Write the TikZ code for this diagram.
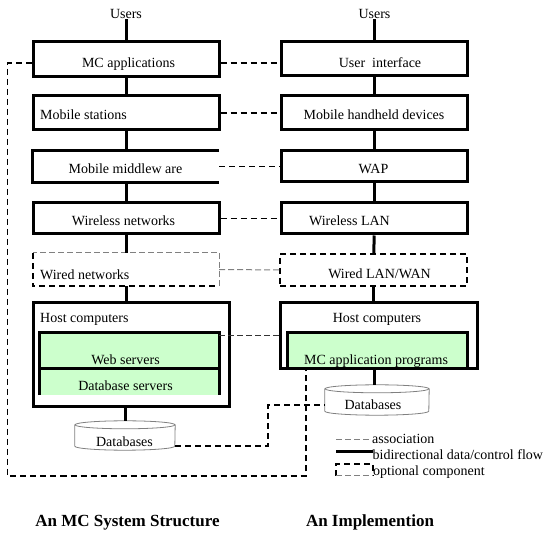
\documentclass[tikz,border=0pt]{standalone}
\usepackage{fontspec}
\setmainfont{Liberation Serif}
\usepackage{xcolor}
\usetikzlibrary{positioning}

\definecolor{srvgreen}{RGB}{204,255,204}

\begin{document}
\begin{tikzpicture}[x=1pt, y=-1pt,
    txt/.style={font=\fontsize{14}{16}\selectfont, inner sep=0pt},
    title/.style={font=\fontsize{17}{20}\selectfont\bfseries, inner sep=0pt},
    box/.style={draw, line width=3pt, inner sep=0pt, minimum width=186pt},
    plainbox/.style={inner sep=0pt, minimum width=186pt},
    srv/.style={fill=srvgreen, inner sep=0pt, minimum width=179pt},
    db/.style={inner sep=0pt, minimum width=100pt, minimum height=29pt},
    dbline/.style={gray, line width=0.8pt},
    flow/.style={line width=3pt},
    assoc/.style={line width=1.5pt, dash pattern=on 6pt off 4pt},
    weak/.style={gray, line width=1pt, dash pattern=on 6pt off 3pt},
    hostlink/.style={black!80, line width=1pt, dash pattern=on 6pt off 3pt}]
    \useasboundingbox (0,0) rectangle (547,534);

%% left column: the MC system structure
\node[txt, anchor=base] (usersl) at (126,19) {Users};
\node[box, minimum height=35pt] (mcapp) at (126,59.5) {};
\node[box, minimum height=34pt] (stations) at (126,113) {};
\node[plainbox, minimum height=31pt] (middle) at (126,166.5) {};
\node[box, minimum height=31pt] (wireless) at (126,218.5) {};
\node[plainbox, minimum height=33pt] (wired) at (126,269.5) {};
\node[box, minimum width=196pt, minimum height=104pt] (lhost) at (131,355) {};
\node[srv, minimum height=35pt] (web) at (129.5,350.5) {};
\node[srv, minimum height=27pt] (dbsrv) at (129.5,381.5) {};
\node[db] (ldb) at (125,435.5) {};

\draw[flow] (middle.north east) -| (middle.south west) -- (middle.south east);
\draw[weak] (wired.south east) |- (wired.north west);
\draw[assoc] (wired.north west) |- (wired.south east);
\draw[flow] (dbsrv.south west) |- (web.north east) -- (dbsrv.south east);
\draw[flow] (web.south west) -- (web.south east);

\node[txt, anchor=base] (mcapptxt) at (128.5,68) {MC applications};
\node[txt, anchor=base west] (stationstxt) at (40,119.5) {Mobile stations};
\node[txt, anchor=base] (middletxt) at (125.5,174) {Mobile middlew are};
\node[txt, anchor=base] (wirelesstxt) at (123.5,226) {Wireless networks};
\node[txt, anchor=base west] (wiredtxt) at (40,279.5) {Wired networks};
\node[txt, anchor=base west] (lhosttxt) at (40,323) {Host computers};
\node[txt, anchor=base] (webtxt) at (125.5,364.5) {Web servers};
\node[txt, anchor=base] (dbsrvtxt) at (125.5,391) {Database servers};

%% right column: an implementation
\node[txt, anchor=base] (usersr) at (374.5,19) {Users};
\node[box, minimum height=34pt] (ui) at (374.5,59) {};
\node[box, minimum height=34pt] (handheld) at (374.5,113) {};
\node[box, minimum height=31pt] (wap) at (374.5,166.5) {};
\node[box, minimum height=31pt] (wlan) at (374.5,218.5) {};
\node[plainbox, minimum width=187pt, minimum height=32pt, draw, line width=1.3pt,
      dash pattern=on 6pt off 4pt] (wiredlan) at (373.5,270) {};
\node[srv, minimum height=36pt] (mcprog) at (377.5,351) {};
\node[box, minimum width=197pt, minimum height=66pt] (rhost) at (378.5,336) {};
\node[db, minimum width=104pt, minimum height=30pt] (rdb) at (377,400) {};

\draw[flow] (mcprog.south west) |- (mcprog.north east) -- (mcprog.south east);

\node[txt, anchor=base] (uitxt) at (380,67.5) {User\ \ interface};
\node[txt, anchor=base] (handheldtxt) at (374,119.5) {Mobile handheld devices};
\node[txt, anchor=base] (waptxt) at (373.5,173.5) {WAP};
\node[txt, anchor=base] (wlantxt) at (349.5,226) {Wireless LAN};
\node[txt, anchor=base] (wiredlantxt) at (379.5,279) {Wired LAN/WAN};
\node[txt, anchor=base] (rhosttxt) at (377,323) {Host computers};
\node[txt, anchor=base] (mcprogtxt) at (376,364.5) {MC application programs};

%% the two databases as drums
\foreach \d / \r in {ldb/50pt, rdb/52pt} {
  \draw[dbline] ([yshift=-4pt]\d.north) ellipse [x radius=\r, y radius=4pt];
  \draw[dbline] ([yshift=-4pt]\d.north west) -- ([yshift=4pt]\d.south west)
     arc [start angle=180, end angle=360, x radius=\r, y radius=4pt]
     -- ([yshift=-4pt]\d.north east);
}
\node[txt, anchor=base] (ldbtxt) at (124.5,447) {Databases};
\node[txt, anchor=base] (rdbtxt) at (373,410) {Databases};

%% data/control flow
\foreach \a / \b in {usersl/mcapp, mcapp/stations, stations/middle, middle/wireless, wireless/wired,
                     usersr/ui, ui/handheld, handheld/wap, wap/wlan, wlan/wiredlan}
  \draw[flow] (\a) -- (\b);
\draw[flow] (wired.south) -- (wired.south |- lhost.north);
\draw[flow] (ldb.north |- lhost.south) -- (ldb.north);
\draw[flow] (wiredlan.south) -- (wiredlan.south |- rhost.north);
\draw[flow] (wap.south |- rhost.south) -- (wap.south |- rdb.north);

%% associations
\draw[assoc] ([yshift=-3.5pt]mcapp.east) -- ([yshift=-4pt]ui.west);
\foreach \a / \b in {stations/handheld, middle/wap, wireless/wlan}
  \draw[assoc] (\a) -- (\b);
\draw[weak] (wired) -- (wiredlan);
\draw[hostlink] (web.east |- rhost.west) -- (rhost.west);

\coordinate (loopcorner) at (7.5,476);
\coordinate (loopend) at (306,476);
\draw[assoc] ([yshift=-3.5pt]mcapp.west) -| (loopcorner) -- (loopend) -- (loopend |- mcprog.south);

\coordinate (dbbend) at (268,446);
\draw[assoc] (ldb.east |- dbbend) -- (dbbend) |- ([yshift=-5pt]rdb.west);

%% legend
\draw[weak] (336,440) -- (370,440);
\node[txt, anchor=base west] (assoctxt) at (372,444) {association};
\draw[flow] (336,452) -- (373,452);
\node[txt, anchor=base west] (flowtxt) at (372.5,459.5) {bidirectional data/control flow};
\draw[assoc] (336,476) |- (373,464) -- (373,476);
\draw[weak] (336,476) -- (373,476);
\node[txt, anchor=base west] (opttxt) at (373,476) {optional component};

%% captions
\node[title, anchor=base] (ltitle) at (127.5,527) {An MC System Structure};
\node[title, anchor=base] (rtitle) at (370,527) {An Implemention};
\end{tikzpicture}
\end{document}
